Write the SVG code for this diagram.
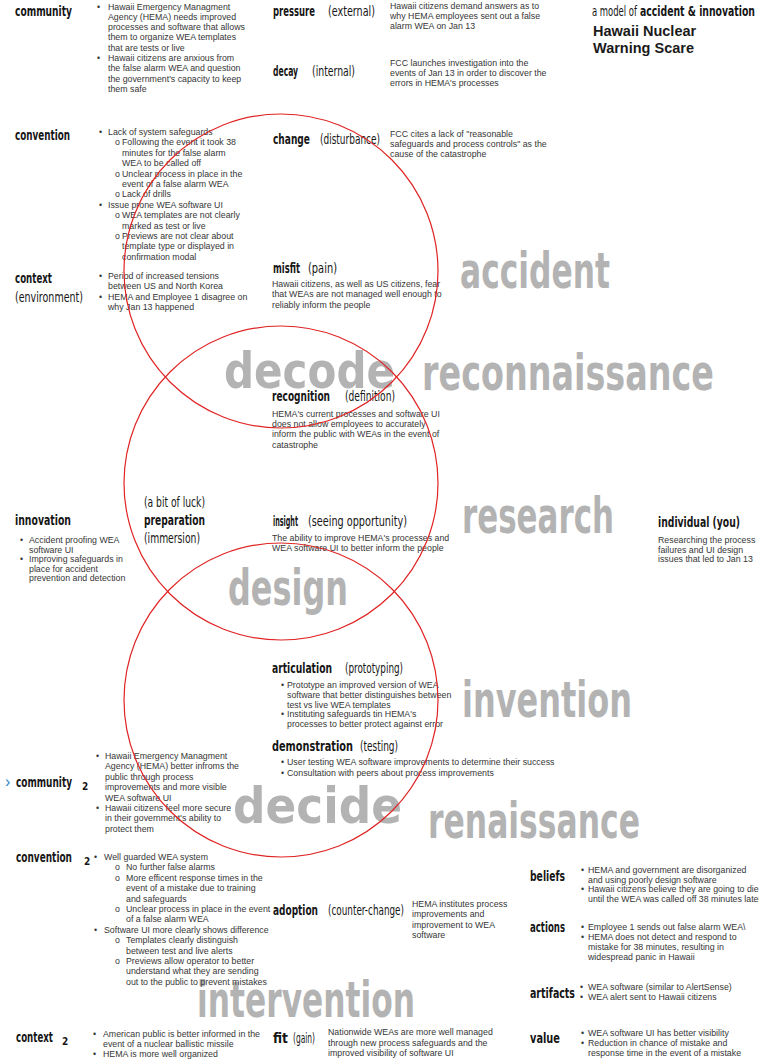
<svg xmlns="http://www.w3.org/2000/svg" width="759" height="1061" viewBox="0 0 759 1061">
<style>
.h{font-family:"DejaVu Sans Condensed","DejaVu Sans",sans-serif;font-weight:bold;font-stretch:condensed;font-size:13.5px;fill:#161616}
.p{font-family:"DejaVu Sans Condensed","DejaVu Sans",sans-serif;font-weight:normal;font-stretch:condensed;font-size:13.5px;fill:#161616}
.s{font-family:"DejaVu Sans Condensed","DejaVu Sans",sans-serif;font-weight:bold;font-size:10px;fill:#161616}
.b{font-family:"Liberation Sans",Arial,sans-serif;font-size:8.8px;fill:#363636}
.big{font-family:"DejaVu Sans Condensed","DejaVu Sans",sans-serif;font-weight:bold;font-stretch:condensed;font-size:50px;fill:#b3b3b3}
.t{font-family:"Liberation Sans",Arial,sans-serif;font-weight:bold;font-size:14.5px;fill:#1a1a1a}
.ring{fill:none;stroke:#e02424;stroke-width:1.2}
</style>
<rect width="759" height="1061" fill="#ffffff"/>

<g id="big-words">
<text class="big" x="460" y="288" textLength="150" lengthAdjust="spacingAndGlyphs">accident</text>
<text class="big" x="422" y="390" textLength="292" lengthAdjust="spacingAndGlyphs">reconnaissance</text>
<text class="big" x="224" y="388" textLength="171" lengthAdjust="spacingAndGlyphs">decode</text>
<text class="big" x="462" y="533" textLength="152" lengthAdjust="spacingAndGlyphs">research</text>
<text class="big" x="228" y="605" textLength="120" lengthAdjust="spacingAndGlyphs">design</text>
<text class="big" x="462" y="717" textLength="170" lengthAdjust="spacingAndGlyphs">invention</text>
<text class="big" x="233" y="823" textLength="169" lengthAdjust="spacingAndGlyphs">decide</text>
<text class="big" x="428" y="838" textLength="212" lengthAdjust="spacingAndGlyphs">renaissance</text>
<text class="big" x="197" y="1017" textLength="218" lengthAdjust="spacingAndGlyphs">intervention</text>
</g>

<g id="title">
<text class="p" x="592" y="15.5" font-size="15" textLength="45" lengthAdjust="spacingAndGlyphs">a model of</text>
<text class="h" x="640" y="15.5" font-size="15" textLength="115" lengthAdjust="spacingAndGlyphs">accident &amp; innovation</text>
<text class="t" x="593" y="35.5">Hawaii Nuclear</text>
<text class="t" x="593" y="53">Warning Scare</text>
</g>

<g id="community">
<text class="h" x="15" y="16" textLength="57" lengthAdjust="spacingAndGlyphs">community</text>
<text class="b">
<tspan x="97" y="9.5">•</tspan><tspan x="108" y="9.5">Hawaii Emergency Managment</tspan>
<tspan x="108" y="19.8">Agency (HEMA) needs improved</tspan>
<tspan x="108" y="30.1">processes and software that allows</tspan>
<tspan x="108" y="40.4">them to organize WEA templates</tspan>
<tspan x="108" y="50.7">that are tests or live</tspan>
<tspan x="97" y="61">•</tspan><tspan x="108" y="61">Hawaii citizens are anxious from</tspan>
<tspan x="108" y="71.3">the false alarm WEA and question</tspan>
<tspan x="108" y="81.6">the government's capacity to keep</tspan>
<tspan x="108" y="91.9">them safe</tspan>
</text>
</g>

<g id="pressure">
<text class="h" x="273" y="16" textLength="42" lengthAdjust="spacingAndGlyphs">pressure</text>
<text class="p" x="328" y="16" textLength="47" lengthAdjust="spacingAndGlyphs">(external)</text>
<text class="b">
<tspan x="390" y="9.3">Hawaii citizens demand answers as to</tspan>
<tspan x="390" y="19.1">why HEMA employees sent out a false</tspan>
<tspan x="390" y="28.9">alarm WEA on Jan 13</tspan>
</text>
</g>

<g id="decay">
<text class="h" x="273" y="75.5" textLength="25" lengthAdjust="spacingAndGlyphs">decay</text>
<text class="p" x="312" y="75.5" textLength="43" lengthAdjust="spacingAndGlyphs">(internal)</text>
<text class="b">
<tspan x="390" y="66.3">FCC launches investigation into the</tspan>
<tspan x="390" y="76.3">events of Jan 13 in order to discover the</tspan>
<tspan x="390" y="86.3">errors in HEMA's processes</tspan>
</text>
</g>

<g id="change">
<text class="h" x="273" y="144" textLength="37" lengthAdjust="spacingAndGlyphs">change</text>
<text class="p" x="320" y="144" textLength="60" lengthAdjust="spacingAndGlyphs">(disturbance)</text>
<text class="b">
<tspan x="390" y="137">FCC cites a lack of "reasonable</tspan>
<tspan x="390" y="147">safeguards and process controls" as the</tspan>
<tspan x="390" y="157">cause of the catastrophe</tspan>
</text>
</g>

<g id="convention">
<text class="h" x="15" y="140" textLength="55" lengthAdjust="spacingAndGlyphs">convention</text>
<text class="b" font-size="9.2">
<tspan x="99" y="135">•</tspan><tspan x="108" y="135">Lack of system safeguards</tspan>
<tspan x="115" y="145.4">o</tspan><tspan x="122" y="145.4">Following the event it took 38</tspan>
<tspan x="122" y="155.8">minutes for the false alarm</tspan>
<tspan x="122" y="166.2">WEA to be called off</tspan>
<tspan x="115" y="176.6">o</tspan><tspan x="122" y="176.6">Unclear process in place in the</tspan>
<tspan x="122" y="187">event of a false alarm WEA</tspan>
<tspan x="115" y="197.4">o</tspan><tspan x="122" y="197.4">Lack of drills</tspan>
<tspan x="99" y="207.8">•</tspan><tspan x="108" y="207.8">Issue prone WEA software UI</tspan>
<tspan x="115" y="218.2">o</tspan><tspan x="122" y="218.2">WEA templates are not clearly</tspan>
<tspan x="122" y="228.6">marked as test or live</tspan>
<tspan x="115" y="239">o</tspan><tspan x="122" y="239">Previews are not clear about</tspan>
<tspan x="122" y="249.4">template type or displayed in</tspan>
<tspan x="122" y="259.8">confirmation modal</tspan>
</text>
</g>

<g id="context">
<text class="h" x="15" y="283" textLength="37" lengthAdjust="spacingAndGlyphs">context</text>
<text class="p" x="15" y="302" textLength="68" lengthAdjust="spacingAndGlyphs">(environment)</text>
<text class="b">
<tspan x="99" y="279">•</tspan><tspan x="108" y="279">Period of increased tensions</tspan>
<tspan x="108" y="289.4">between US and North Korea</tspan>
<tspan x="99" y="299.8">•</tspan><tspan x="108" y="299.8">HEMA and Employee 1 disagree on</tspan>
<tspan x="108" y="310.2">why Jan 13 happened</tspan>
</text>
</g>

<g id="misfit">
<text class="h" x="273" y="273" textLength="27" lengthAdjust="spacingAndGlyphs">misfit</text>
<text class="p" x="308" y="273" textLength="29" lengthAdjust="spacingAndGlyphs">(pain)</text>
<text class="b">
<tspan x="272" y="287">Hawaii citizens, as well as US citizens, fear</tspan>
<tspan x="272" y="297">that WEAs are not managed well enough to</tspan>
<tspan x="272" y="307.5">reliably inform the people</tspan>
</text>
</g>

<g id="recognition">
<text class="h" x="272" y="401" textLength="58" lengthAdjust="spacingAndGlyphs">recognition</text>
<text class="p" x="345" y="401" textLength="50" lengthAdjust="spacingAndGlyphs">(definition)</text>
<text class="b">
<tspan x="272" y="417">HEMA's current processes and software UI</tspan>
<tspan x="272" y="427">does not allow employees to accurately</tspan>
<tspan x="272" y="437">inform the public with WEAs in the event of</tspan>
<tspan x="272" y="447.5">catastrophe</tspan>
</text>
</g>

<g id="preparation">
<text class="p" x="144" y="507" textLength="61" lengthAdjust="spacingAndGlyphs">(a bit of luck)</text>
<text class="h" x="144" y="525" textLength="61" lengthAdjust="spacingAndGlyphs">preparation</text>
<text class="p" x="144" y="543" textLength="56" lengthAdjust="spacingAndGlyphs">(immersion)</text>
</g>

<g id="innovation">
<text class="h" x="15" y="525" textLength="56" lengthAdjust="spacingAndGlyphs">innovation</text>
<text class="b">
<tspan x="20" y="543">•</tspan><tspan x="29" y="543">Accident proofing WEA</tspan>
<tspan x="29" y="552.5">software UI</tspan>
<tspan x="20" y="562">•</tspan><tspan x="29" y="562">Improving safeguards in</tspan>
<tspan x="29" y="571.5">place for accident</tspan>
<tspan x="29" y="581">prevention and detection</tspan>
</text>
</g>

<g id="insight">
<text class="h" x="273" y="526" textLength="25" lengthAdjust="spacingAndGlyphs">insight</text>
<text class="p" x="308" y="526" textLength="99" lengthAdjust="spacingAndGlyphs">(seeing opportunity)</text>
<text class="b">
<tspan x="272" y="541">The ability to improve HEMA's processes and</tspan>
<tspan x="272" y="551">WEA software UI to better inform the people</tspan>
</text>
</g>

<g id="individual">
<text class="h" x="658" y="527" textLength="82" lengthAdjust="spacingAndGlyphs">individual (you)</text>
<text class="b">
<tspan x="658" y="543">Researching the process</tspan>
<tspan x="658" y="552.5">failures and UI design</tspan>
<tspan x="658" y="562">issues that led to Jan 13</tspan>
</text>
</g>

<g id="articulation">
<text class="h" x="272" y="673" textLength="60" lengthAdjust="spacingAndGlyphs">articulation</text>
<text class="p" x="345" y="673" textLength="58" lengthAdjust="spacingAndGlyphs">(prototyping)</text>
<text class="b">
<tspan x="281" y="688">•</tspan><tspan x="287" y="688">Prototype an improved version of WEA</tspan>
<tspan x="287" y="697.8">software that better distinguishes between</tspan>
<tspan x="287" y="707.6">test vs live WEA templates</tspan>
<tspan x="281" y="717.4">•</tspan><tspan x="287" y="717.4">Instituting safeguards tin HEMA's</tspan>
<tspan x="287" y="727.2">processes to better protect against error</tspan>
</text>
</g>

<g id="demonstration">
<text class="h" x="272" y="751" textLength="81" lengthAdjust="spacingAndGlyphs">demonstration</text>
<text class="p" x="360" y="751" textLength="38" lengthAdjust="spacingAndGlyphs">(testing)</text>
<text class="b">
<tspan x="281" y="765">•</tspan><tspan x="287" y="765">User testing WEA software improvements to determine their success</tspan>
<tspan x="281" y="776">•</tspan><tspan x="287" y="776">Consultation with peers about process improvements</tspan>
</text>
</g>

<g id="community-2">
<text x="5" y="787" font-family="Liberation Sans,Arial,sans-serif" font-size="16" fill="#2f86c8">›</text>
<text class="h" x="16" y="787" textLength="56" lengthAdjust="spacingAndGlyphs">community</text>
<text class="s" x="82" y="790">2</text>
<text class="b">
<tspan x="96" y="759">•</tspan><tspan x="105" y="759">Hawaii Emergency Managment</tspan>
<tspan x="105" y="769.4">Agency (HEMA) better infroms the</tspan>
<tspan x="105" y="779.8">public through process</tspan>
<tspan x="105" y="790.2">improvements and more visible</tspan>
<tspan x="105" y="800.6">WEA software UI</tspan>
<tspan x="96" y="811">•</tspan><tspan x="105" y="811">Hawaii citizens feel more secure</tspan>
<tspan x="105" y="821.4">in their government's ability to</tspan>
<tspan x="105" y="831.8">protect them</tspan>
</text>
</g>

<g id="convention-2">
<text class="h" x="16" y="862" textLength="56" lengthAdjust="spacingAndGlyphs">convention</text>
<text class="s" x="84" y="865">2</text>
<text class="b">
<tspan x="94" y="860">•</tspan><tspan x="104" y="860">Well guarded WEA system</tspan>
<tspan x="115" y="870.4">o</tspan><tspan x="126" y="870.4">No further false alarms</tspan>
<tspan x="115" y="880.8">o</tspan><tspan x="126" y="880.8">More efficent response times in the</tspan>
<tspan x="126" y="891.2">event of a mistake due to training</tspan>
<tspan x="126" y="901.6">and safeguards</tspan>
<tspan x="115" y="912">o</tspan><tspan x="126" y="912">Unclear process in place in the event</tspan>
<tspan x="126" y="922.4">of a false alarm WEA</tspan>
<tspan x="94" y="932.8">•</tspan><tspan x="104" y="932.8">Software UI more clearly shows difference</tspan>
<tspan x="115" y="943.2">o</tspan><tspan x="126" y="943.2">Templates clearly distinguish</tspan>
<tspan x="126" y="953.6">between test and live alerts</tspan>
<tspan x="115" y="964">o</tspan><tspan x="126" y="964">Previews allow operator to better</tspan>
<tspan x="126" y="974.4">understand what they are sending</tspan>
<tspan x="126" y="984.8">out to the public to prevent mistakes</tspan>
</text>
</g>

<g id="context-2">
<text class="h" x="16" y="1042" textLength="37" lengthAdjust="spacingAndGlyphs">context</text>
<text class="s" x="62" y="1045">2</text>
<text class="b">
<tspan x="93" y="1037">•</tspan><tspan x="103" y="1037">American public is better informed in the</tspan>
<tspan x="103" y="1047">event of a nuclear ballistic missile</tspan>
<tspan x="93" y="1057">•</tspan><tspan x="103" y="1057">HEMA is more well organized</tspan>
</text>
</g>

<g id="adoption">
<text class="h" x="273" y="915" textLength="45" lengthAdjust="spacingAndGlyphs">adoption</text>
<text class="p" x="328" y="915" textLength="76" lengthAdjust="spacingAndGlyphs">(counter-change)</text>
<text class="b">
<tspan x="412" y="906.5">HEMA institutes process</tspan>
<tspan x="412" y="917">improvements and</tspan>
<tspan x="412" y="927.5">improvement to WEA</tspan>
<tspan x="412" y="938">software</tspan>
</text>
</g>

<g id="fit">
<text class="h" x="273" y="1043" textLength="15" lengthAdjust="spacingAndGlyphs">fit</text>
<text class="p" x="293" y="1043" textLength="22" lengthAdjust="spacingAndGlyphs">(gain)</text>
<text class="b">
<tspan x="328" y="1035">Nationwide WEAs are more well managed</tspan>
<tspan x="328" y="1045.5">through new process safeguards and  the</tspan>
<tspan x="328" y="1056">improved visibility of software UI</tspan>
</text>
</g>

<g id="beliefs">
<text class="h" x="530" y="881" textLength="35" lengthAdjust="spacingAndGlyphs">beliefs</text>
<text class="b">
<tspan x="581" y="873">•</tspan><tspan x="588" y="873">HEMA and government are disorganized</tspan>
<tspan x="588" y="882.5">and using poorly design software</tspan>
<tspan x="581" y="892">•</tspan><tspan x="588" y="892">Hawaii citizens believe they are going to die</tspan>
<tspan x="588" y="901.5">until the WEA was called off 38 minutes later</tspan>
</text>
</g>

<g id="actions">
<text class="h" x="530" y="932" textLength="35" lengthAdjust="spacingAndGlyphs">actions</text>
<text class="b">
<tspan x="581" y="930">•</tspan><tspan x="588" y="930">Employee 1 sends out false alarm WEA\</tspan>
<tspan x="581" y="940">•</tspan><tspan x="588" y="940">HEMA does not detect and respond to</tspan>
<tspan x="588" y="950">mistake for 38 minutes, resulting in</tspan>
<tspan x="588" y="960">widespread panic in Hawaii</tspan>
</text>
</g>

<g id="artifacts">
<text class="h" x="530" y="998" textLength="45" lengthAdjust="spacingAndGlyphs">artifacts</text>
<text class="b">
<tspan x="580" y="990">•</tspan><tspan x="588" y="990">WEA software (similar to AlertSense)</tspan>
<tspan x="580" y="1000">•</tspan><tspan x="588" y="1000">WEA alert sent to Hawaii citizens</tspan>
</text>
</g>

<g id="value">
<text class="h" x="530" y="1043" textLength="30" lengthAdjust="spacingAndGlyphs">value</text>
<text class="b">
<tspan x="581" y="1036">•</tspan><tspan x="588" y="1036">WEA software UI has better visibility</tspan>
<tspan x="581" y="1046">•</tspan><tspan x="588" y="1046">Reduction in chance of mistake and</tspan>
<tspan x="588" y="1056">response time in the event of a mistake</tspan>
</text>
</g>

<g id="connectors">
<circle class="ring" cx="281" cy="271" r="157"/>
<circle class="ring" cx="281" cy="483" r="157"/>
<circle class="ring" cx="281" cy="700" r="157"/>
</g>
</svg>
